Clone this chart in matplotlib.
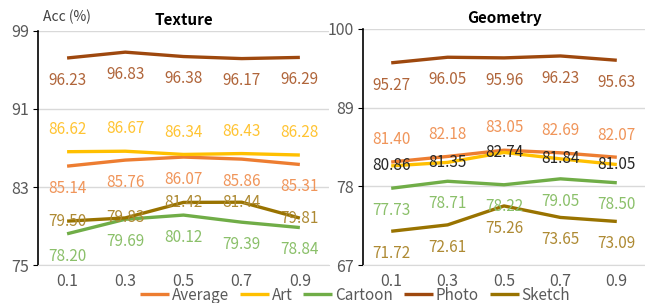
import numpy as np
import matplotlib
matplotlib.use("Agg")
import matplotlib.pyplot as plt

plt.rcParams['font.family'] = ['Noto Sans CJK SC', 'DejaVu Sans']

# data
ratios = ['0.1', '0.3', '0.5', '0.7', '0.9']
series = ['Average', 'Art', 'Cartoon', 'Photo', 'Sketch']

texture_average = [85.14, 85.76, 86.07, 85.86, 85.31]
texture_art = [86.62, 86.67, 86.34, 86.43, 86.28]
texture_cartoon = [78.20, 79.69, 80.12, 79.39, 78.84]
texture_photo = [96.23, 96.83, 96.38, 96.17, 96.29]
texture_sketch = [79.50, 79.83, 81.42, 81.44, 79.81]

geometry_average = [81.40, 82.18, 83.05, 82.69, 82.07]
geometry_art = [80.86, 81.35, 82.74, 81.84, 81.05]
geometry_cartoon = [77.73, 78.71, 78.22, 79.05, 78.50]
geometry_photo = [95.27, 96.05, 95.96, 96.23, 95.63]
geometry_sketch = [71.72, 72.61, 75.26, 73.65, 73.09]

texture_ticks = [75, 83, 91, 99]
geometry_ticks = [67, 78, 89, 100]

line_colors = {'Average': '#ED7D31', 'Art': '#FFC000', 'Cartoon': '#70AD47',
               'Photo': '#9E480E', 'Sketch': '#997300'}
label_colors = {'Average': '#F0955A', 'Art': '#FFC433', 'Cartoon': '#8BC06A',
                'Photo': '#B0653A', 'Sketch': '#AE8A33'}


def draw_panel(ax, data, ticks, title, offsets, lab_colors):
    x = np.arange(len(ratios))
    for name in series:
        ax.plot(x, data[name], color=line_colors[name], lw=2.4,
                solid_capstyle='butt', label=name, zorder=3)
    for name in series:
        for xi, v in zip(x, data[name]):
            ax.annotate(f"{v:.2f}", (xi, v), xytext=(0, offsets[name]),
                        textcoords='offset points', ha='center', va='center',
                        fontsize=11, color=lab_colors[name], zorder=4)
    ax.set_xlim(-0.5, len(ratios) - 0.5)
    ax.set_ylim(ticks[0], ticks[-1])
    ax.set_yticks(ticks)
    ax.set_xticks(x)
    ax.set_xticklabels(ratios)
    ax.grid(axis='y', color='#D9D9D9', lw=1)
    ax.set_axisbelow(True)
    for s in ['top', 'right']:
        ax.spines[s].set_visible(False)
    ax.spines['bottom'].set_color('#D9D9D9')
    ax.spines['left'].set_color('black')
    ax.spines['left'].set_linewidth(1.2)
    ax.tick_params(axis='x', length=0, pad=6, labelsize=11.5, labelcolor='#595959')
    ax.tick_params(axis='y', length=3.5, pad=3, labelsize=11.5, labelcolor='#595959',
                   color='black')
    ax.set_title(title, fontsize=11, fontweight='bold', pad=4)


fig = plt.figure(figsize=(6.45, 3.03), dpi=100)

ax1 = fig.add_axes([0.0589, 0.1254, 0.4511, 0.7723])
ax2 = fig.add_axes([0.5628, 0.1254, 0.4372, 0.7789])

tex = {'Average': texture_average, 'Art': texture_art, 'Cartoon': texture_cartoon,
       'Photo': texture_photo, 'Sketch': texture_sketch}
geo = {'Average': geometry_average, 'Art': geometry_art, 'Cartoon': geometry_cartoon,
       'Photo': geometry_photo, 'Sketch': geometry_sketch}

draw_panel(ax1, tex, texture_ticks, 'Texture',
           {'Average': -16, 'Art': 16, 'Cartoon': -16, 'Photo': -16, 'Sketch': 0},
           label_colors)
geo_label_colors = dict(label_colors)
geo_label_colors['Art'] = '#262626'
draw_panel(ax2, geo, geometry_ticks, 'Geometry',
           {'Average': 16, 'Art': 0, 'Cartoon': -16, 'Photo': -16, 'Sketch': -16},
           geo_label_colors)

fig.text(43 / 645, 1 - 17 / 303, 'Acc (%)', fontsize=10, color='#404040',
         ha='left', va='center')

handles, labels = ax1.get_legend_handles_labels()
fig.legend(handles, labels, loc='center', bbox_to_anchor=(355 / 645, 1 - 295 / 303),
           ncol=5, frameon=False, fontsize=11, handlelength=1.9, handletextpad=0.2,
           columnspacing=0.7, labelcolor='#595959')

fig.savefig('out.png', dpi=100)
